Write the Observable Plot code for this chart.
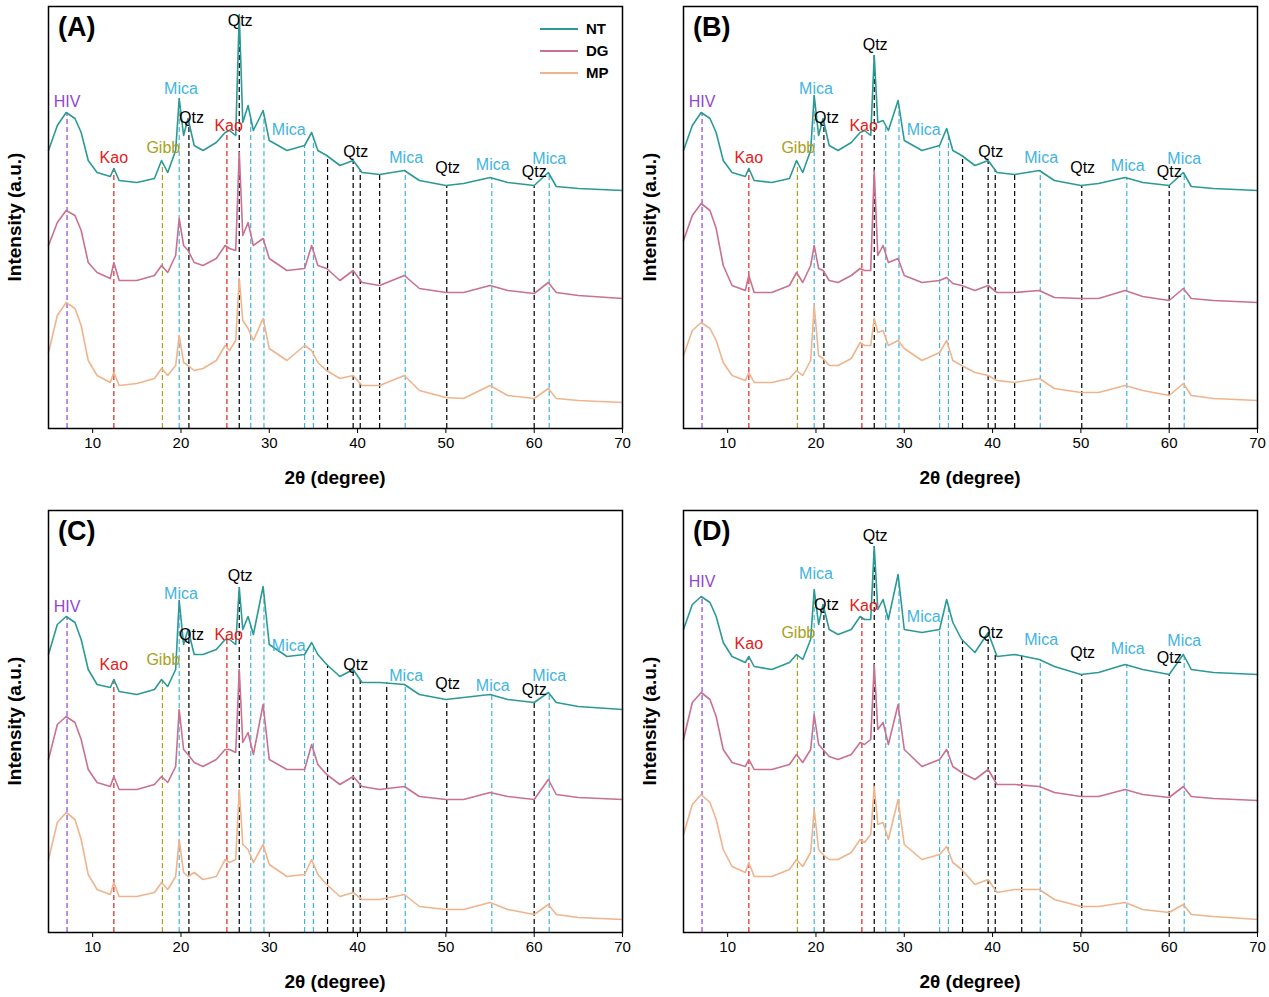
<!DOCTYPE html>
<html><head><meta charset="utf-8">
<script src="https://cdn.jsdelivr.net/npm/d3@7"></script>
<script src="https://cdn.jsdelivr.net/npm/@observablehq/plot@0.6"></script>
<style>
body{margin:0;background:#fff;font-family:"Liberation Sans",Arial,sans-serif}
#wrap{position:relative;width:1269px;height:997px}
.pan{position:absolute}
.ylab{position:absolute;font-weight:bold;font-size:19px;transform:rotate(-90deg);transform-origin:center;white-space:nowrap;width:200px;text-align:center}
.xlab{position:absolute;font-weight:bold;font-size:19px;width:300px;text-align:center}
.let{position:absolute;font-weight:bold;font-size:27px}
.leg{position:absolute;font-weight:bold;font-size:15px}
.legl{position:absolute;height:2px;width:38px}
</style></head><body><div id="wrap"></div>
<script>
const twoTheta=[5,6,7,8,8.7,9.5,10.5,12,12.4,13,15,17,17.8,18.5,19.4,19.8,20.3,20.8,21.5,22.5,24,25,25.5,26.2,26.6,27,27.6,28.2,29.3,30,32,34,34.8,35.5,36.5,38,39.5,40.5,42.5,45.3,47,50,52,55,57,60,61.6,62.5,65,70];
const seriesNames=["NT","DG","MP"];
const seriesColors=["#2b9a96","#c9718f","#f0b48c"];
const NT_A=[280,305,318,312,298,270,258,254,262,250,248,252,270,258,280,332,295,312,285,280,288,298,300,295,416,308,325,300,320,290,280,285,298,280,275,265,270,258,256,260,250,245,247,253,248,245,258,244,242,240];
const DG_A=[185,208,220,215,200,168,158,152,168,150,150,155,165,158,175,212,185,180,168,165,172,185,182,180,278,195,208,185,192,172,160,162,185,165,162,150,160,148,145,155,142,138,138,145,140,137,148,138,135,132];
const MP_A=[78,115,128,122,105,70,55,48,58,45,47,52,62,55,65,95,68,65,60,62,70,85,80,90,152,110,102,90,112,82,70,85,80,68,60,52,55,45,45,55,40,33,32,45,35,32,42,32,30,28];
const NT_B=[280,305,318,312,298,270,258,254,262,250,248,252,270,258,280,335,295,312,285,280,288,298,300,295,375,308,310,300,330,290,280,285,302,280,275,265,270,258,256,260,250,245,247,253,248,245,258,244,242,240];
const DG_B=[190,215,227,220,202,165,145,140,155,138,138,145,158,148,165,185,162,160,150,148,155,162,160,160,260,175,185,168,172,155,148,150,153,147,145,140,145,138,138,140,133,132,132,140,134,130,142,132,130,128];
const MP_B=[75,100,108,102,90,68,55,50,58,48,48,52,60,55,70,125,75,72,65,65,72,88,85,85,112,98,100,85,90,82,70,78,90,70,65,58,55,50,48,52,42,38,38,45,40,35,47,35,32,30];
const NT_C=[280,310,318,312,295,265,250,247,255,243,240,245,255,248,265,334,290,305,280,280,285,295,295,290,347,305,318,300,348,290,278,280,292,280,270,258,265,252,252,250,240,235,237,240,235,232,242,232,228,225];
const DG_C=[175,210,218,212,195,165,152,148,158,145,145,150,158,152,168,225,185,180,172,168,175,185,185,182,265,192,202,180,230,175,165,165,190,170,160,150,158,148,145,148,138,135,135,142,138,135,155,140,137,135];
const MP_C=[75,112,122,115,95,60,45,40,52,38,38,42,52,45,58,95,62,58,62,55,58,75,72,75,145,90,85,72,90,70,58,60,75,60,50,38,42,35,35,40,28,25,25,32,25,20,30,20,17,15];
const NT_D=[305,330,338,332,318,292,278,272,278,268,265,272,280,275,295,345,310,330,305,300,305,318,315,315,388,325,335,315,360,305,302,305,335,312,295,282,302,278,280,275,268,260,262,270,265,260,280,265,262,260];
const DG_D=[195,232,242,235,218,185,172,168,175,165,165,170,180,172,185,220,190,185,178,175,180,192,190,195,270,205,212,190,230,185,168,175,185,168,162,155,165,150,150,148,142,138,138,145,140,137,148,138,136,134];
const MP_D=[100,130,140,132,115,85,68,62,72,58,58,65,75,68,82,125,85,80,75,75,82,95,92,100,148,110,112,95,135,90,75,80,88,72,65,50,55,42,45,45,35,28,28,32,25,22,30,20,18,15];
const phaseColors={HIV:"#9146d2",Kao:"#e3201c",Gibb:"#aaa020",Mica:"#3fb4e2",Qtz:"#000"};
const refX_AB=[7.1,12.4,17.9,19.8,20.9,25.2,26.6,27.9,29.4,34.0,35.0,36.6,39.5,40.3,42.5,45.4,50.1,55.2,60.0,61.7];
const refX_CD=[7.1,12.4,17.9,19.8,20.9,25.2,26.6,27.9,29.4,34.0,35.0,36.6,39.5,40.3,43.3,45.4,50.1,55.2,60.0,61.7];
const refPhase=["HIV","Kao","Gibb","Mica","Qtz","Kao","Qtz","Mica","Mica","Mica","Mica","Qtz","Qtz","Qtz","Qtz","Mica","Qtz","Mica","Qtz","Mica"];
const labelText=["HIV","Kao","Gibb","Mica","Qtz","Kao","Qtz","Mica","Qtz","Mica","Qtz","Mica","Qtz","Mica"];
const labelX=[7.1,12.4,18.0,20.0,21.2,25.4,26.7,32.2,39.8,45.5,50.2,55.3,60.0,61.7];
const labelY_A=[329,273,283,342,313,305,410,301,279,273,263,266,259,272];
const labelY_B=[329,273,283,342,313,305,386,301,279,273,263,265,259,272];
const labelY_C=[328,270,275,341,300,300,359,289,270,259,251,249,245,259];
const labelY_D=[353,291,302,361,330,329,399,318,302,295,282,286,277,294];
const xTicks=[10,20,30,40,50,60,70];

const panels=[
 {id:"(A)",s:[NT_A,DG_A,MP_A],ref:refX_AB,ly:labelY_A,left:0,top:0},
 {id:"(B)",s:[NT_B,DG_B,MP_B],ref:refX_AB,ly:labelY_B,left:635,top:0},
 {id:"(C)",s:[NT_C,DG_C,MP_C],ref:refX_CD,ly:labelY_C,left:0,top:504},
 {id:"(D)",s:[NT_D,DG_D,MP_D],ref:refX_CD,ly:labelY_D,left:635,top:504}];
const wrap=document.getElementById("wrap");
for(const p of panels){
  const rows=[];
  p.s.forEach((arr,k)=>arr.forEach((v,i)=>rows.push({x:twoTheta[i],y:v,s:seriesNames[k]})));
  const nt=p.s[0];
  const topAt=x=>{let i=d3.bisectLeft(twoTheta,x);if(i<=0)return nt[0];if(i>=twoTheta.length)return nt[nt.length-1];
    const x0=twoTheta[i-1],x1=twoTheta[i];return nt[i-1]+(nt[i]-nt[i-1])*(x-x0)/(x1-x0);};
  const refs=p.ref.map((x,i)=>({x,ph:refPhase[i],y2:topAt(x)}));
  const labs=labelText.map((t,i)=>({t,x:labelX[i],y:p.ly[i]}));
  const chart=Plot.plot({
    width:635,height:500,marginLeft:48,marginRight:13,marginTop:6,marginBottom:72,
    style:{fontFamily:"Liberation Sans, Arial, sans-serif",fontSize:"15px",color:"#000"},
    x:{domain:[5,70]},y:{domain:[2,424],axis:null},
    color:{domain:seriesNames,range:seriesColors},
    marks:[
      Plot.ruleX(refs,{x:"x",y1:2,y2:"y2",stroke:d=>phaseColors[d.ph],strokeDasharray:"5,3",strokeWidth:1.2}),
      Plot.line(rows,{x:"x",y:"y",z:"s",stroke:"s",strokeWidth:1.6}),
      Plot.text(labs,{x:"x",y:"y",text:"t",fill:d=>phaseColors[d.t],fontSize:16}),
      Plot.axisX({ticks:xTicks,tickSize:5,tickPadding:4,label:null,fontSize:15}),
      Plot.frame({stroke:"#000",strokeWidth:1.5})
    ]});
  chart.classList.add("pan");chart.style.left=p.left+"px";chart.style.top=p.top+"px";
  wrap.appendChild(chart);
  const L=document.createElement("div");L.className="let";L.textContent=p.id;
  L.style.left=(p.left+58)+"px";L.style.top=(p.top+12)+"px";wrap.appendChild(L);
  const X=document.createElement("div");X.className="xlab";X.textContent="2θ (degree)";
  X.style.left=(p.left+335-150)+"px";X.style.top=(p.top+467)+"px";wrap.appendChild(X);
  const Y=document.createElement("div");Y.className="ylab";Y.textContent="Intensity (a.u.)";
  Y.style.left=(p.left+15-100)+"px";Y.style.top=(p.top+206)+"px";wrap.appendChild(Y);
}
seriesNames.forEach((n,i)=>{
  const l=document.createElement("div");l.className="legl";l.style.background=seriesColors[i];
  l.style.left="540px";l.style.top=(28+i*22)+"px";wrap.appendChild(l);
  const t=document.createElement("div");t.className="leg";t.textContent=n;
  t.style.left="586px";t.style.top=(20+i*22)+"px";wrap.appendChild(t);
});
</script></body></html>
